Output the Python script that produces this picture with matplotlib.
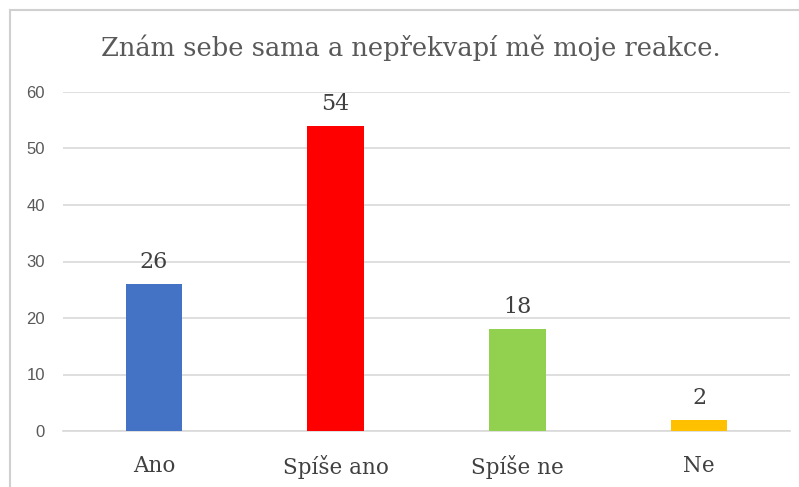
import matplotlib.pyplot as plt
from matplotlib.patches import Rectangle

categories = ["Ano", "Spíše ano", "Spíše ne", "Ne"]
values = [26, 54, 18, 2]
colors = ["#4472C4", "#FF0000", "#92D050", "#FFC000"]
yticks = [0, 10, 20, 30, 40, 50, 60]
title = "Znám sebe sama a nepřekvapí mě moje reakce."

W, H = 799, 487
fig = plt.figure(figsize=(W / 100, H / 100), dpi=100)
ax = fig.add_axes([63 / W, 1 - 431 / H, (790 - 63) / W, (431 - 92) / H])

x = range(len(categories))
bars = ax.bar(x, values, width=0.31, color=colors, zorder=3)

ax.set_xlim(-0.5, len(categories) - 0.5)
ax.set_ylim(0, 60)
ax.set_yticks(yticks)
ax.set_yticklabels([str(t) for t in yticks], fontsize=12, color="#595959",
                   family="Liberation Sans")
ax.set_xticks(list(x))
ax.set_xticklabels(categories, fontsize=15.5, color="#404040", family="DejaVu Serif")
ax.tick_params(axis="both", length=0)
ax.tick_params(axis="y", pad=13)
ax.tick_params(axis="x", pad=17)
ax.grid(axis="y", color="#D9D9D9", linewidth=1.2, zorder=0)
for side in ["top", "right", "left"]:
    ax.spines[side].set_visible(False)
ax.spines["bottom"].set_color("#D9D9D9")
ax.spines["bottom"].set_linewidth(1.2)

for b, v in zip(bars, values):
    ax.annotate(str(v), (b.get_x() + b.get_width() / 2, v), xytext=(0, 8),
                textcoords="offset points", ha="center", va="bottom",
                fontsize=16, color="#404040", family="DejaVu Serif")

fig.text(411 / W, 1 - 48 / H, title, ha="center", va="center", fontsize=18.5,
         color="#595959", family="DejaVu Serif")

fig.patches.append(Rectangle((10 / W, -0.1), 1.2, 1.1 - 10 / H,
                             transform=fig.transFigure, fill=False,
                             edgecolor="#D0D0D0", linewidth=1.5))

fig.savefig("out.png", dpi=100)
